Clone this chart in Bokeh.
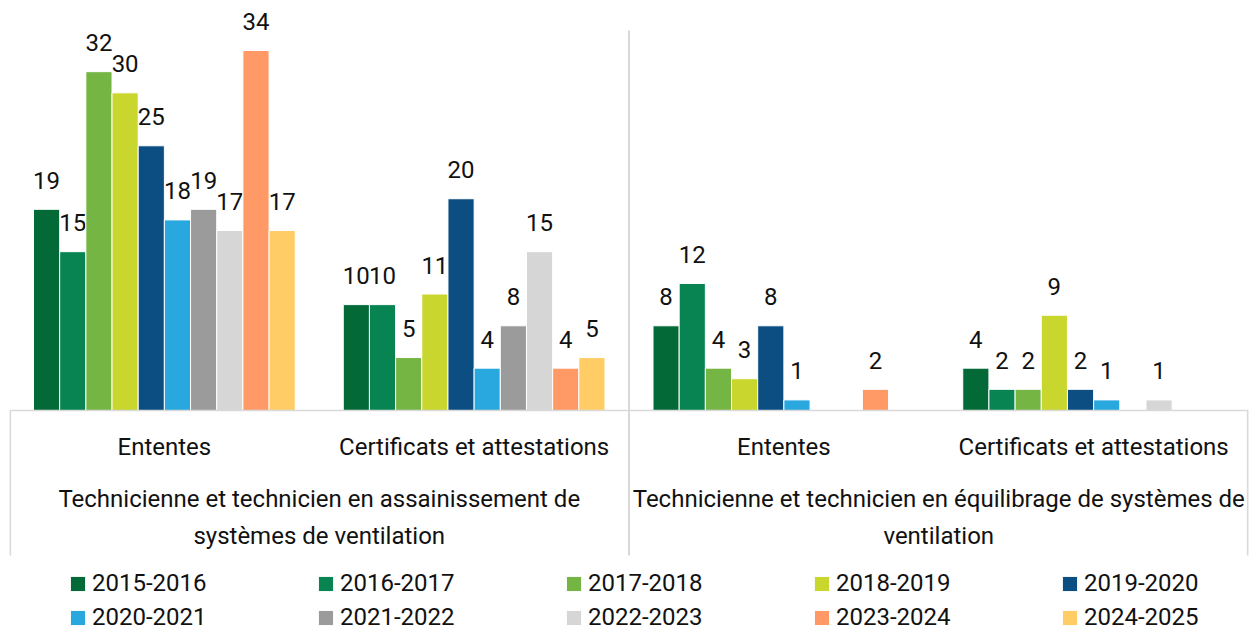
from bokeh.plotting import figure
from bokeh.models import FactorRange, ColumnDataSource, Legend, LegendItem, Span, Range1d
from bokeh.transform import dodge
from bokeh.core.properties import value
from bokeh.embed import file_html
from bokeh.resources import INLINE

# ---------------- data ----------------
programs = [
    "Technicienne et technicien en assainissement de systèmes de ventilation",
    "Technicienne et technicien en équilibrage de systèmes de ventilation",
]
program_lines = [
    ["Technicienne et technicien en assainissement de", "systèmes de ventilation"],
    ["Technicienne et technicien en équilibrage de systèmes de", "ventilation"],
]
types = ["Ententes", "Certificats et attestations"]
years = ["2015-2016", "2016-2017", "2017-2018", "2018-2019", "2019-2020",
         "2020-2021", "2021-2022", "2022-2023", "2023-2024", "2024-2025"]

# values per year for: (assain., Ententes), (assain., Certificats), (équil., Ententes), (équil., Certificats)
v_2015_2016 = [19, 10, 8, 4]
v_2016_2017 = [15, 10, 12, 2]
v_2017_2018 = [32, 5, 4, 2]
v_2018_2019 = [30, 11, 3, 9]
v_2019_2020 = [25, 20, 8, 2]
v_2020_2021 = [18, 4, 1, 1]
v_2021_2022 = [19, 8, None, None]
v_2022_2023 = [17, 15, None, 1]
v_2023_2024 = [34, 4, 2, None]
v_2024_2025 = [17, 5, None, None]
series = [v_2015_2016, v_2016_2017, v_2017_2018, v_2018_2019, v_2019_2020,
          v_2020_2021, v_2021_2022, v_2022_2023, v_2023_2024, v_2024_2025]

colors = ["#036A37", "#078452", "#74B543", "#C9D62D", "#0D4E82",
          "#29A7DF", "#9B9B9B", "#D6D6D6", "#FF9966", "#FFCC66"]

# ---------------- layout ----------------
W, H = 1253, 632
ML, MR = 9, 5
base_px = 410.0            # baseline distance from top of frame (px)
ppu = 360.0 / 34.0         # pixels per unit
y_end = base_px / ppu
y_start = -(H - base_px) / ppu

def px(d):
    return d / ppu

FONT = value("Roboto")
FS = "24px"
TXT = "#111111"
LINE = "#D9D9D9"

factors = [(pr, t) for pr in programs for t in types]
x_range = FactorRange(*factors, factor_padding=0, group_padding=0,
                      subgroup_padding=0, range_padding=0)

p = figure(width=W, height=H, x_range=x_range, y_range=Range1d(y_start, y_end),
           output_backend="svg", toolbar_location=None,
           x_axis_location=None, y_axis_location=None,
           min_border=0, min_border_left=ML, min_border_right=MR,
           min_border_top=0, min_border_bottom=0)
p.outline_line_color = None
p.xgrid.visible = False
p.ygrid.visible = False
p.background_fill_color = "white"

n = len(years)
bw = 0.0845
items = []
for i, (yr, vals, col) in enumerate(zip(years, series, colors)):
    xs = [f for f, v in zip(factors, vals) if v is not None]
    tops = [v for v in vals if v is not None]
    src = ColumnDataSource(dict(x=xs, top=tops, label=[str(v) for v in tops]))
    off = (i - (n - 1) / 2) * bw
    r = p.vbar(x=dodge("x", off, range=p.x_range), top="top", width=bw, source=src,
               fill_color=col, line_color="white", line_width=1)
    p.text(x=dodge("x", off, range=p.x_range), y="top", text="label", source=src,
           text_align="center", text_baseline="alphabetic", y_offset=-29,
           text_font=FONT, text_font_size=FS, text_color=TXT)
    items.append(LegendItem(label=yr, renderers=[r]))

# baseline and separators
p.add_layout(Span(location=0, dimension="width", line_color=LINE, line_width=1.5))
ng = len(programs)
sep_x = [k * len(types) for k in range(ng + 1)]
sep_x = [0.002] + sep_x[1:-1] + [sep_x[-1] - 0.002]
sep_top = [0] + [y_end - px(30)] * (ng - 1) + [0]
p.segment(x0=sep_x, y0=[px(-145)] * len(sep_x), x1=sep_x, y1=sep_top,
          line_color=LINE, line_width=2)

# category labels
p.text(x=factors, y=[px(-36)] * len(factors), text=[f[1] for f in factors],
       text_align="center", text_baseline="middle",
       text_font=FONT, text_font_size=FS, text_color=TXT)

# program labels (two lines)
centers = [k * len(types) + len(types) / 2 for k in range(ng)]
for li, dy in enumerate([-88, -125]):
    p.text(x=centers, y=[px(dy)] * ng, text=[pl[li] for pl in program_lines],
           text_align="center", text_baseline="middle",
           text_font=FONT, text_font_size=FS, text_color=TXT)

legend = Legend(items=items, orientation="horizontal", ncols=5,
                location=(59, 1), padding=0, margin=0, spacing=6,
                glyph_width=19, glyph_height=19, label_standoff=5,
                label_width=218, label_height=19,
                label_text_font="Roboto", label_text_font_size=FS,
                label_text_color=TXT, background_fill_alpha=0,
                border_line_alpha=0)
p.add_layout(legend)

open("out.html", "w").write(file_html(p, INLINE))
